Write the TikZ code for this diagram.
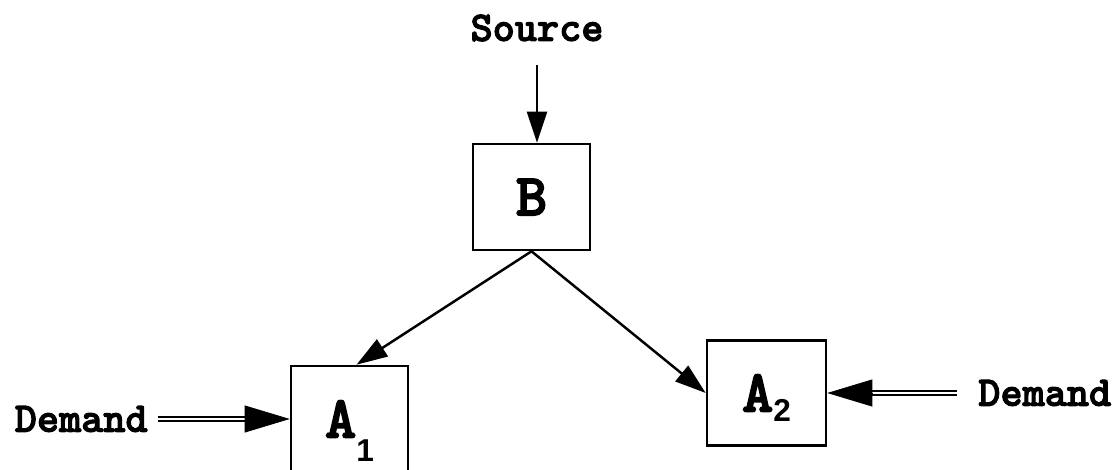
\documentclass[tikz,border=0pt]{standalone}
\usepackage{fontspec}
\newfontfamily\slabfont{lmmonolt10-bold}[Extension=.otf, FakeBold=2.5]
\newfontfamily\digitfont{Liberation Sans}
\usetikzlibrary{arrows.meta}
\tikzset{
  every picture/.style={line join=miter, >=Stealth},
  lbl/.style={font=\slabfont\fontsize{24}{24}\selectfont, inner sep=0pt},
  blk/.style={draw, line width=1.5pt, minimum width=2.34cm, minimum height=2.12cm, inner sep=0pt,
    font=\slabfont\fontsize{34}{34}\selectfont},
  arr/.style={line width=1.4pt, -{Triangle[length=0.62cm,width=0.4cm]}},
  dbl/.style={double, double distance=1.7pt, line width=0.9pt},
  fat/.style={-{Triangle[length=0.9cm,width=0.54cm]}},
}
\newcommand{\blksub}[2]{\raisebox{#1}[0pt][0pt]{\digitfont\bfseries\fontsize{18}{18}\selectfont #2}}

\begin{document}
\begin{tikzpicture}[x=0.02cm,y=-0.02cm]
\useasboundingbox (0,0) rectangle (1117,470);
\node[lbl] (src) at (537,28) {Source};
\coordinate (srctop) at (537,65);
\node[blk] (B) at (531.5,197) {B};
\node[blk] (A1) at (349.5,419) {A\blksub{-0.48cm}{1}};
\node[blk, minimum width=2.38cm, minimum height=2.1cm] (A2) at (766.5,393) {A\blksub{-0.2cm}{2}};
\node[lbl, anchor=east] (dl) at (148,419) {Demand};
\node[lbl, anchor=west] (dr) at (978,393) {Demand};
\draw[arr] (srctop) -- (srctop |- B.north);
\draw[arr] (B.south) -- ([xshift=0.14cm]A1.north);
\draw[arr] (B.south) -- (A2.west);
\draw[dbl] ([xshift=0.2cm]dl.east) -- ([xshift=-0.9cm]A1.west);
\draw[fat] ([xshift=-0.9cm]A1.west) -- (A1.west);
\draw[dbl] ([xshift=-0.42cm]dr.west) -- ([xshift=0.9cm]A2.east);
\draw[fat] ([xshift=0.9cm]A2.east) -- (A2.east);
\end{tikzpicture}
\end{document}
